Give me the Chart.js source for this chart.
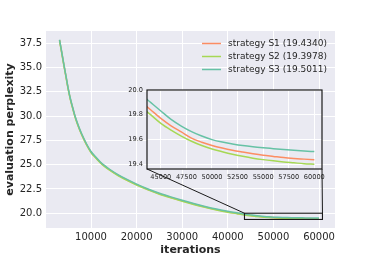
<!DOCTYPE html>
<html><head><meta charset="utf-8">
<script src="https://cdn.jsdelivr.net/npm/chart.js@4/dist/chart.umd.min.js"></script>
<style>
html,body{margin:0;padding:0;background:#fff;}
#wrap{position:relative;width:373px;height:257px;}
canvas{position:absolute;left:0;top:0;}
</style></head><body>
<div id="wrap"><canvas id="main" width="373" height="257"></canvas><canvas id="inset" width="373" height="257"></canvas></div>
<script>
const iterations = [3100, 3500, 4000, 4500, 5000, 5500, 6000, 6500, 7000, 7500, 8000,
  9000, 10000, 11000, 12000, 13000, 14000, 16000, 18000, 20000,
  22500, 25000, 27500, 30000, 32500, 35000, 37500, 40000, 42000, 43000, 44000,
  45000, 46000, 47000, 48000, 49000, 50000, 51000, 52000, 53000, 54000, 55000, 56000, 57000, 58000, 59000, 60000];
const s1Values = [37.8, 36.74, 35.39, 34.09, 32.79, 31.69, 30.79, 29.94, 29.24, 28.62, 28.06,
  27.09, 26.29, 25.74, 25.24, 24.84, 24.49, 23.89, 23.39, 22.94,
  22.44, 22.0, 21.62, 21.27, 20.94, 20.64, 20.37, 20.14, 19.99, 19.91, 19.84,
  19.77, 19.71, 19.66, 19.61, 19.577, 19.551, 19.53, 19.512, 19.497, 19.483, 19.471, 19.462, 19.453, 19.446, 19.44, 19.434];
const s2Values = [37.76, 36.7, 35.35, 34.05, 32.75, 31.65, 30.75, 29.9, 29.2, 28.58, 28.02,
  27.05, 26.25, 25.7, 25.2, 24.8, 24.45, 23.85, 23.35, 22.9,
  22.4, 21.96, 21.58, 21.23, 20.9, 20.6, 20.33, 20.1, 19.95, 19.87, 19.8,
  19.73, 19.675, 19.627, 19.585, 19.55, 19.522, 19.5, 19.48, 19.463, 19.448, 19.436, 19.426, 19.417, 19.41, 19.403, 19.398];
const s3Values = [37.85, 36.8, 35.45, 34.15, 32.85, 31.75, 30.85, 30.0, 29.3, 28.68, 28.12,
  27.15, 26.35, 25.8, 25.3, 24.9, 24.55, 23.95, 23.45, 23.0,
  22.5, 22.06, 21.68, 21.33, 21.0, 20.7, 20.43, 20.2, 20.05, 19.97, 19.9,
  19.83, 19.762, 19.708, 19.663, 19.627, 19.598, 19.578, 19.563, 19.55, 19.54, 19.532, 19.525, 19.518, 19.512, 19.506, 19.501];
const seriesNames = ['strategy S1 (19.4340)', 'strategy S2 (19.3978)', 'strategy S3 (19.5011)'];
const seriesColors = ['#fc8d62', '#a6d854', '#66c2a5'];
const mainXTicks = [10000, 20000, 30000, 40000, 50000, 60000];
const mainYTicks = [20.0, 22.5, 25.0, 27.5, 30.0, 32.5, 35.0, 37.5];
const insetXTicks = [45000, 47500, 50000, 52500, 55000, 57500, 60000];
const insetYTicks = [19.4, 19.6, 19.8, 20.0];
const mainXRange = [130, 63500];
const mainYRange = [18.48, 38.75];
const insetXRange = [43650, 60750];
const insetYRange = [19.36, 20.0];

Chart.defaults.font.family = "'DejaVu Sans'";
Chart.defaults.color = '#262626';

const allSeries = [s1Values, s2Values, s3Values];
function makeDatasets() {
  return allSeries.map((vals, i) => ({
    label: seriesNames[i],
    data: iterations.map((x, j) => ({x: x, y: vals[j]})),
    borderColor: seriesColors[i],
    backgroundColor: seriesColors[i],
    borderWidth: 1.5,
    pointRadius: 0,
    fill: false,
    cubicInterpolationMode: 'monotone',
    order: 2 - i
  }));
}

const bgPlugin = {
  id: 'bg',
  beforeDraw(chart) {
    const {ctx, chartArea: a} = chart;
    ctx.save();
    ctx.fillStyle = '#eaeaf2';
    ctx.fillRect(a.left, a.top, a.right - a.left, a.bottom - a.top);
    ctx.restore();
  }
};

const mainExtras = {
  id: 'mainExtras',
  afterDatasetsDraw(chart) {
    const {ctx, scales} = chart;
    const x1 = scales.x.getPixelForValue(insetXRange[0]);
    const x2 = scales.x.getPixelForValue(insetXRange[1]);
    const y1 = scales.y.getPixelForValue(insetYRange[1]);
    const y2 = scales.y.getPixelForValue(insetYRange[0]);
    ctx.save();
    ctx.strokeStyle = '#1a1a1a';
    ctx.lineWidth = 1.1;
    ctx.strokeRect(x1, y1, x2 - x1, y2 - y1);
    ctx.restore();
  },
  afterDraw(chart) {
    const {ctx} = chart;
    ctx.save();
    ctx.font = "9px 'DejaVu Sans'";
    ctx.textBaseline = 'middle';
    ctx.textAlign = 'left';
    const rows = [43.5, 56.5, 69.5];
    chart.data.datasets.forEach((ds, i) => {
      const y = rows[i];
      ctx.strokeStyle = ds.borderColor;
      ctx.lineWidth = 1.5;
      ctx.beginPath();
      ctx.moveTo(202, y);
      ctx.lineTo(221, y);
      ctx.stroke();
      ctx.fillStyle = '#262626';
      ctx.fillText(ds.label, 228, y + 0.5);
    });
    ctx.restore();
  }
};

const mainChart = new Chart(document.getElementById('main'), {
  type: 'line',
  data: {datasets: makeDatasets()},
  options: {
    responsive: false, animation: false, devicePixelRatio: 1, events: [],
    layout: {padding: {top: 31, right: 38, left: 0, bottom: 0}},
    plugins: {legend: {display: false}, tooltip: {enabled: false}},
    scales: {
      x: {
        type: 'linear', min: mainXRange[0], max: mainXRange[1],
        afterBuildTicks: s => { s.ticks = mainXTicks.map(v => ({value: v})); },
        afterFit: s => { s.height = 29; },
        ticks: {font: {size: 10}, padding: 3, maxRotation: 0, callback: v => String(v)},
        grid: {color: '#ffffff', lineWidth: 1, drawTicks: false},
        border: {display: false},
        title: {display: true, text: 'iterations', font: {size: 11, weight: 'bold'}, padding: {top: 0, bottom: 0}}
      },
      y: {
        type: 'linear', min: mainYRange[0], max: mainYRange[1],
        afterBuildTicks: s => { s.ticks = mainYTicks.map(v => ({value: v})); },
        afterFit: s => { s.width = 46; },
        ticks: {font: {size: 10}, padding: 4, callback: v => Number(v).toFixed(1)},
        grid: {color: '#ffffff', lineWidth: 1, drawTicks: false},
        border: {display: false},
        title: {display: true, text: 'evaluation perplexity', font: {size: 11, weight: 'bold'}, padding: {top: 4, bottom: 0}}
      }
    }
  },
  plugins: [bgPlugin, mainExtras]
});

const insetExtras = {
  id: 'insetExtras',
  afterDraw(chart) {
    const {ctx, chartArea: a} = chart;
    const ms = mainChart.scales;
    const rx1 = ms.x.getPixelForValue(insetXRange[0]);
    const rx2 = ms.x.getPixelForValue(insetXRange[1]);
    const ry1 = ms.y.getPixelForValue(insetYRange[1]);
    ctx.save();
    ctx.strokeStyle = '#1a1a1a';
    ctx.lineWidth = 1.2;
    ctx.strokeRect(a.left, a.top, a.right - a.left, a.bottom - a.top);
    ctx.lineWidth = 1;
    ctx.beginPath();
    ctx.moveTo(a.left, a.bottom);
    ctx.lineTo(rx1, ry1);
    ctx.moveTo(a.right, a.bottom);
    ctx.lineTo(rx2, ry1);
    ctx.stroke();
    ctx.restore();
  }
};

const insetChart = new Chart(document.getElementById('inset'), {
  type: 'line',
  data: {datasets: makeDatasets()},
  options: {
    responsive: false, animation: false, devicePixelRatio: 1, events: [],
    layout: {padding: {top: 90, right: 51, left: 127, bottom: 76}},
    plugins: {legend: {display: false}, tooltip: {enabled: false}},
    scales: {
      x: {
        type: 'linear', min: insetXRange[0], max: insetXRange[1],
        afterBuildTicks: s => { s.ticks = insetXTicks.map(v => ({value: v})); },
        afterFit: s => { s.height = 12; },
        ticks: {font: {size: 6.6}, padding: 4, maxRotation: 0, autoSkip: false, callback: v => String(v)},
        grid: {color: '#ffffff', lineWidth: 1, drawTicks: false},
        border: {display: false}
      },
      y: {
        type: 'linear', min: insetYRange[0], max: insetYRange[1],
        afterBuildTicks: s => { s.ticks = insetYTicks.map(v => ({value: v})); },
        afterFit: s => { s.width = 20; },
        ticks: {font: {size: 6.6}, padding: 4, callback: v => Number(v).toFixed(1)},
        grid: {color: '#ffffff', lineWidth: 1, drawTicks: false},
        border: {display: false}
      }
    }
  },
  plugins: [bgPlugin, insetExtras]
});
</script>
</body></html>
